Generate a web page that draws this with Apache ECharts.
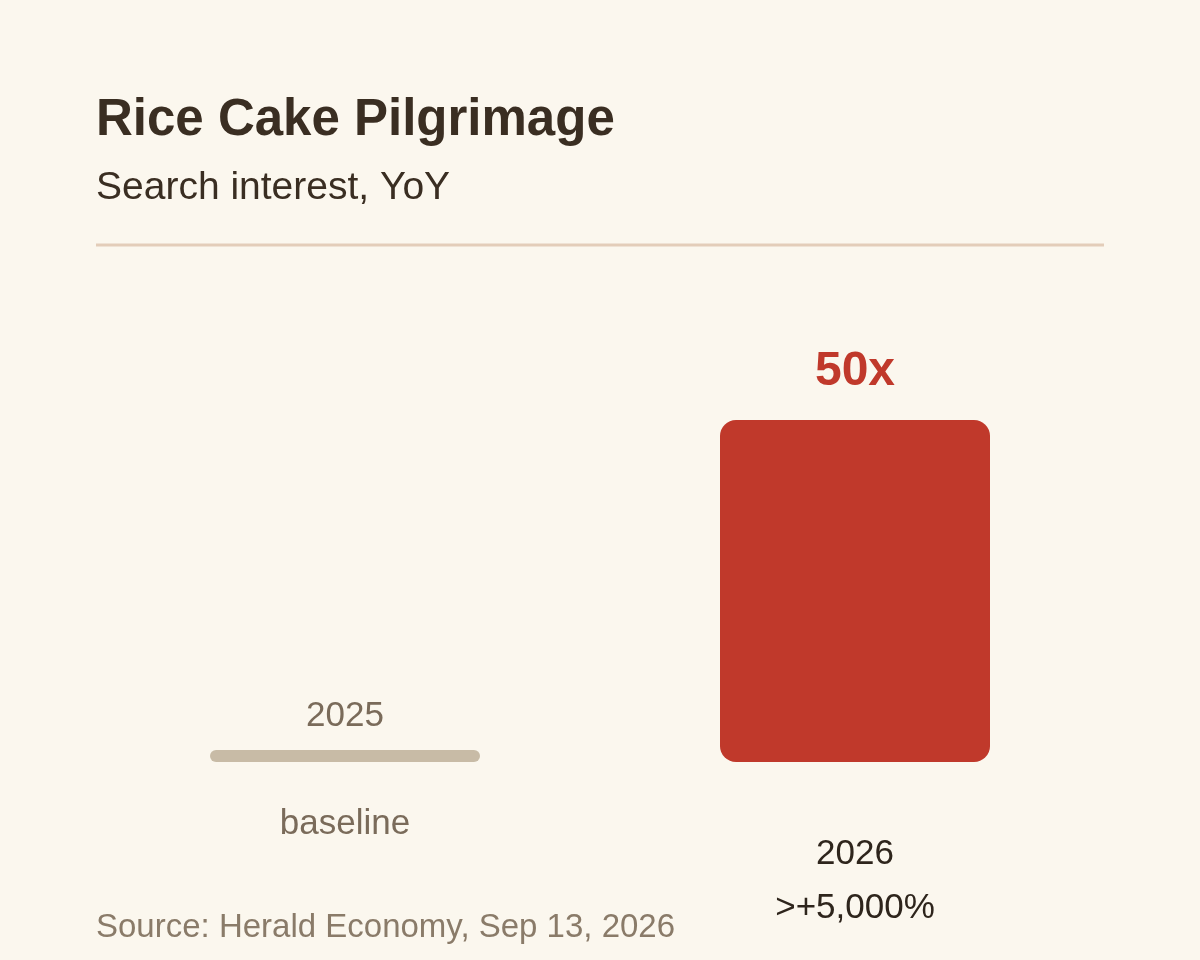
<!DOCTYPE html>
<html>
<head>
<meta charset="utf-8">
<script src="https://cdn.jsdelivr.net/npm/echarts@6/dist/echarts.min.js"></script>
<style>
  html, body { margin: 0; padding: 0; background: #fbf7ee; }
  #chart { width: 1200px; height: 960px; }
</style>
</head>
<body>
<div id="chart"></div>
<script>
const years = ["2025", "2026"];
const interest = [1, 50];
const topLabels = ["2025", "50x"];
const bottomLabels = ["baseline", "2026\n>+5,000%"];

const FONT = "Liberation Sans, Arial, sans-serif";

const chart = echarts.init(document.getElementById("chart"));

const option = {
  backgroundColor: "#fbf7ee",
  animation: false,
  textStyle: { fontFamily: FONT },
  title: [
    {
      text: "Rice Cake Pilgrimage",
      subtext: "Search interest, YoY",
      left: 96,
      top: 91,
      itemGap: 14,
      padding: 0,
      textStyle: {
        fontFamily: FONT,
        fontSize: 51,
        fontWeight: "bold",
        color: "#3a2e22",
        lineHeight: 60
      },
      subtextStyle: {
        fontFamily: FONT,
        fontSize: 39,
        color: "#3a2e22",
        lineHeight: 46
      }
    },
    {
      text: "Source: Herald Economy, Sep 13, 2026",
      left: 96,
      top: 908,
      padding: 0,
      textStyle: {
        fontFamily: FONT,
        fontSize: 33,
        fontWeight: "normal",
        color: "#8a7b69",
        lineHeight: 40
      }
    }
  ],
  graphic: [
    {
      type: "line",
      shape: { x1: 96, y1: 245, x2: 1104, y2: 245 },
      style: { stroke: "#e3cdb9", lineWidth: 3 }
    }
  ],
  grid: { left: 90, right: 90, top: 420, bottom: 198 },
  xAxis: {
    type: "category",
    data: years,
    show: false
  },
  yAxis: {
    type: "value",
    min: 0,
    max: 50,
    show: false
  },
  series: [
    {
      type: "bar",
      barWidth: 270,
      barMinHeight: 12,
      data: interest.map(function(v, i) {
        return {
          value: v,
          itemStyle: i === 0
            ? { color: "#c8bba6", borderRadius: 6 }
            : { color: "#c0392b", borderRadius: 16 },
          label: i === 0
            ? { fontSize: 35, color: "#7a6b5a", lineHeight: 40, distance: 14 }
            : { fontSize: 48, fontWeight: "bold", color: "#c0392b", lineHeight: 50, distance: 23 }
        };
      }),
      label: {
        show: true,
        position: "top",
        fontFamily: FONT,
        formatter: function(p) { return topLabels[p.dataIndex]; }
      }
    },
    {
      type: "bar",
      barWidth: 270,
      barGap: "-100%",
      barMinHeight: 12,
      silent: true,
      itemStyle: { color: "rgba(0,0,0,0)" },
      data: interest.map(function(v, i) {
        return {
          value: v,
          label: i === 0
            ? { color: "#7a6b5a", lineHeight: 40, distance: 42 }
            : { color: "#2e251c", lineHeight: 54, distance: 65 }
        };
      }),
      label: {
        show: true,
        position: "bottom",
        fontFamily: FONT,
        fontSize: 35,
        formatter: function(p) { return bottomLabels[p.dataIndex]; }
      }
    }
  ]
};

chart.setOption(option);
</script>
</body>
</html>
